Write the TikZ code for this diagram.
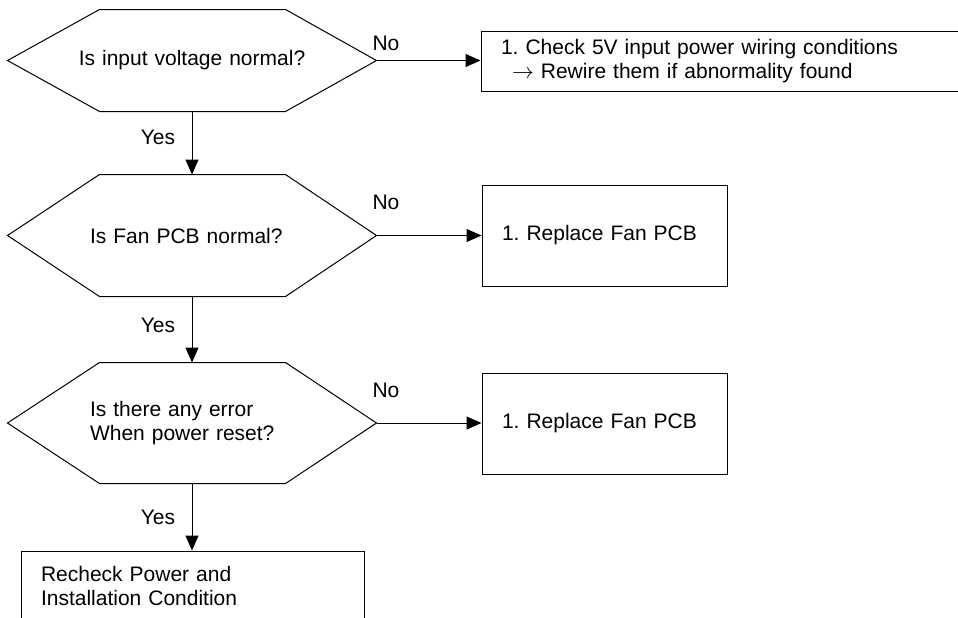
\documentclass[tikz,border=0pt]{standalone}
\usepackage{fontspec}
\setmainfont{Liberation Sans}
\usepackage{tikz}
\usetikzlibrary{positioning,arrows.meta,calc}
\frenchspacing

\begin{document}
\begin{tikzpicture}[
    x=0.5pt, y=-0.5pt,
    every node/.style={font=\fontsize{10.5pt}{11.8pt}\selectfont},
    hexa/.style={minimum width=184pt, inner xsep=41pt, inner ysep=0pt, text width=102pt, align=left},
    box/.style={draw, inner xsep=10pt, inner ysep=0pt, text width=102.5pt, minimum height=50.5pt, align=left},
    arrow/.style={-{Triangle[length=7.5pt,width=6.5pt]}},
    line width=0.5pt
]
\useasboundingbox (0,0) rectangle (958,617);
\clip (0,0) rectangle (958,617);

% Decisions (left column)
\node[hexa, text width=120pt, inner xsep=32pt, align=center, minimum height=50.5pt] (q1) at (192,60.5) {Is input voltage normal?};
\node[hexa, minimum height=60.5pt] (q2) at (192,235.5) {Is Fan PCB normal?};
\node[hexa, minimum height=60pt] (q3) at (192,423) {Is there any error\\When power reset?};

\foreach \q in {q1,q2,q3}
  \draw (\q.west) -- ([xshift=46pt]\q.north west) -- ([xshift=-45.5pt]\q.north east) -- (\q.east)
    -- ([xshift=-45.5pt]\q.south east) -- ([xshift=46pt]\q.south west) -- cycle;

% Actions (right column)
\node[box, text width=239.5pt, minimum height=30pt] (r1) at (740.5,61) {1. Check 5V input power wiring conditions\\\hspace*{5.5pt}$\rightarrow$ Rewire them if abnormality found};
\node[box] (r2) at (604.5,235.5) {1. Replace Fan PCB};
\node[box] (r3) at (604.5,423.5) {1. Replace Fan PCB};

% Final box
\node[box, text width=151.5pt, minimum height=35pt] (fin) at (192.5,586) {Recheck Power and\\Installation Condition};

% No branches
\draw[arrow] (q1.east) -- (q1.east -| r1.west);
\draw[arrow] (q2.east) -- (r2.west);
\draw[arrow] (q3.east) -- (q3.east -| r3.west);

\node (no1) at (386,43) {No};
\node (no2) at (386,202) {No};
\node (no3) at (386,390) {No};

% Yes branches
\draw[arrow] (q1.south) -- (q2.north);
\draw[arrow] (q2.south) -- (q3.north);
\draw[arrow] (q3.south) -- (q3.south |- fin.north);

\node (yes1) at (158,137) {Yes};
\node (yes2) at (158,325) {Yes};
\node (yes3) at (158,517) {Yes};

\end{tikzpicture}
\end{document}
